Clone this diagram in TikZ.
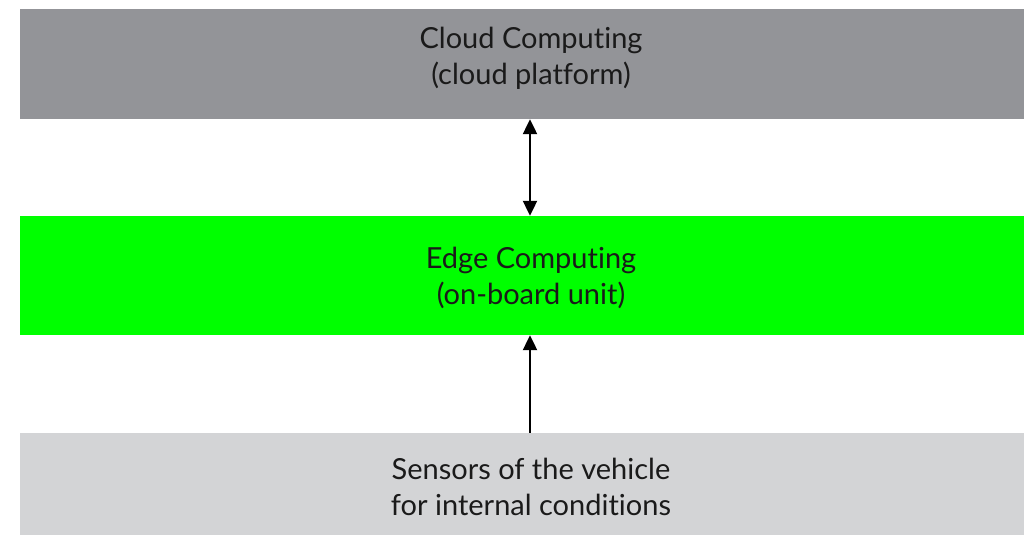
\documentclass[tikz,border=0pt]{standalone}
\usepackage{fontspec}
\setmainfont{Lato}[Ligatures={NoCommon,NoRare,NoContextual}]
\usetikzlibrary{arrows.meta}
\definecolor{cloudgray}{HTML}{939498}
\definecolor{edgegreen}{HTML}{00FF00}
\definecolor{sensgray}{HTML}{D3D4D6}
\definecolor{txt}{HTML}{1A1A1A}
\tikzset{
  layer/.style={minimum width=1004pt, inner sep=0pt, draw=none},
  lbl/.style={inner sep=0pt, align=center, anchor=base,
    font=\fontsize{29}{36}\selectfont, text=txt},
  conn/.style={line width=2.2pt, draw=black, >={Triangle[width=14pt,length=15pt]}}
}
\begin{document}
\begin{tikzpicture}[x=1pt,y=1pt]
\useasboundingbox (0,0) rectangle (1024,535);
\node[layer, fill=cloudgray, minimum height=110pt] (cloud) at (522,471) {};
\node[layer, fill=edgegreen, minimum height=119pt] (edge) at (522,259.5) {};
\node[layer, fill=sensgray, minimum height=102pt] (sens) at (522,51) {};
\node[lbl] (cloudtxt) at (531,450) {Cloud Computing\\(cloud platform)};
\node[lbl] (edgetxt) at (531,230) {Edge Computing\\(on-board unit)};
\node[lbl] (senstxt) at (531,20) {Sensors of the vehicle\\for internal conditions};
\draw[conn, <->] ([xshift=8pt]cloud.south) -- ([xshift=8pt]edge.north);
\draw[conn, ->] ([xshift=8pt]sens.north) -- ([xshift=8pt]edge.south);
\end{tikzpicture}
\end{document}
